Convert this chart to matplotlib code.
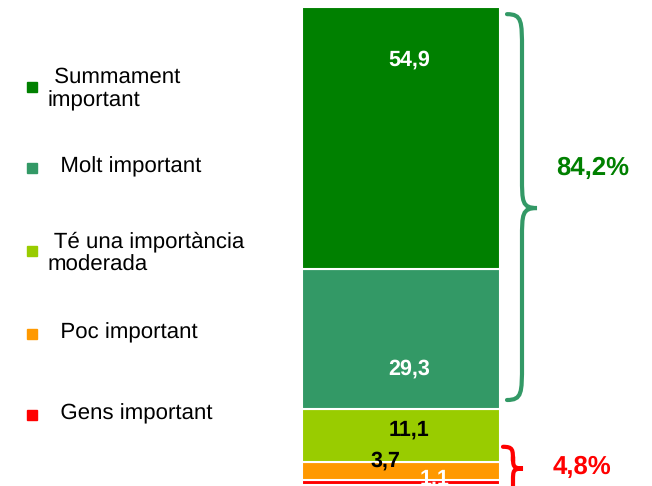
import matplotlib
matplotlib.use("Agg")
import matplotlib.pyplot as plt
from matplotlib.path import Path
from matplotlib.patches import PathPatch, Rectangle
from matplotlib.transforms import blended_transform_factory
import numpy as np

plt.rcParams['font.family'] = ['Liberation Sans', 'DejaVu Sans']
plt.rcParams['text.hinting'] = 'no_hinting'

# ---- data ----
categories = ["Gens important", "Poc important", "Té una importància\nmoderada",
              "Molt important", "Summament\nimportant"]
values = [1.1, 3.7, 11.1, 29.3, 54.9]
value_labels = ["1,1", "3,7", "11,1", "29,3", "54,9"]
group_labels = ["4,8%", "84,2%"]

# ---- styles ----
colors = ["#FF0000", "#FF9900", "#99CC00", "#339966", "#008000"]
label_colors = ["white", "black", "black", "white", "white"]
legend_prefix = ["  ", "  ", " ", "  ", " "]
label_frac = [1.25, 1.05, 0.6, 0.29, 0.80]
label_dx = [0.17, -0.08, 0.04, 0.04, 0.04]

W, H = 652, 486
fig = plt.figure(figsize=(W / 100, H / 100), dpi=100)
ax = fig.add_axes([302 / W, 1 / H, 198 / W, 478 / H])
total = sum(values)
bottoms = np.concatenate([[0], np.cumsum(values)[:-1]])
for v, b, c in zip(values, bottoms, colors):
    ax.bar(0, v, bottom=b, width=1.0, color=c, edgecolor="white", linewidth=1.5)
ax.set_xlim(-0.5, 0.5)
ax.set_ylim(0, total)
ax.axis("off")

for v, b, lab, lc, fr, dx in zip(values, bottoms, value_labels, label_colors, label_frac, label_dx):
    ax.text(dx, b + v * fr, lab, ha="center", va="center", color=lc,
            fontsize=15.5, fontweight="bold", clip_on=False)

# ---- legend (manual) ----
leg_y = [415, 334, 251, 168, 87]
for cat, c, y, pre in zip(categories, colors, leg_y, legend_prefix):
    fig.patches.append(Rectangle((27 / W, 1 - (y + 5) / H), 10 / W, 10 / H,
                                 transform=fig.transFigure, color=c, figure=fig))
    ty = y + (2 if "\n" in cat else -1)
    lines = cat.split("\n")
    txt = pre + lines[0] + ("\n" + lines[1] if len(lines) > 1 else "")
    fig.text(48 / W, 1 - ty / H, txt, ha="left", va="center", fontsize=16,
             color="black", linespacing=1.2)

# ---- braces ----
tr = blended_transform_factory(fig.transFigure, ax.transData)


def brace(x_end, x_mid, x_tip, y_top, y_bot, y_tip, r_end, r_tip, color, lw):
    xe, xm, xt = x_end / W, x_mid / W, x_tip / W
    verts = [
        (xe, y_top),
        (xm, y_top), (xm, y_top - r_end * 0.2), (xm, y_top - r_end),
        (xm, y_tip + r_tip),
        (xm, y_tip + r_tip * 0.2), (xm, y_tip), (xt, y_tip),
        (xm, y_tip), (xm, y_tip - r_tip * 0.2), (xm, y_tip - r_tip),
        (xm, y_bot + r_end),
        (xm, y_bot + r_end * 0.2), (xm, y_bot), (xe, y_bot),
    ]
    codes = [Path.MOVETO,
             Path.CURVE4, Path.CURVE4, Path.CURVE4,
             Path.LINETO,
             Path.CURVE4, Path.CURVE4, Path.CURVE4,
             Path.CURVE4, Path.CURVE4, Path.CURVE4,
             Path.LINETO,
             Path.CURVE4, Path.CURVE4, Path.CURVE4]
    p = PathPatch(Path(verts, codes), transform=tr, facecolor="none",
                  edgecolor=color, linewidth=lw, clip_on=False, capstyle="round")
    fig.patches.append(p)


top_group = values[3] + values[4]
low_group = values[0] + values[1]
brace(507, 522, 537, total - 1.5, bottoms[3] + 1.9, bottoms[3] + top_group * 0.5,
      7.5, 6.5, "#339966", 3.0)
brace(503, 513, 523, low_group + 3.2, -3.0, low_group * 0.72, 3.0, 2.5, "#FF0000", 3.0)

fig.text(593 / W, 1 - 168 / H, group_labels[1], ha="center", va="center",
         fontsize=18.5, fontweight="bold", color="#008000")
fig.text(582 / W, 1 - 467 / H, group_labels[0], ha="center", va="center",
         fontsize=18.5, fontweight="bold", color="#FF0000")

fig.savefig("out.png", dpi=100)
